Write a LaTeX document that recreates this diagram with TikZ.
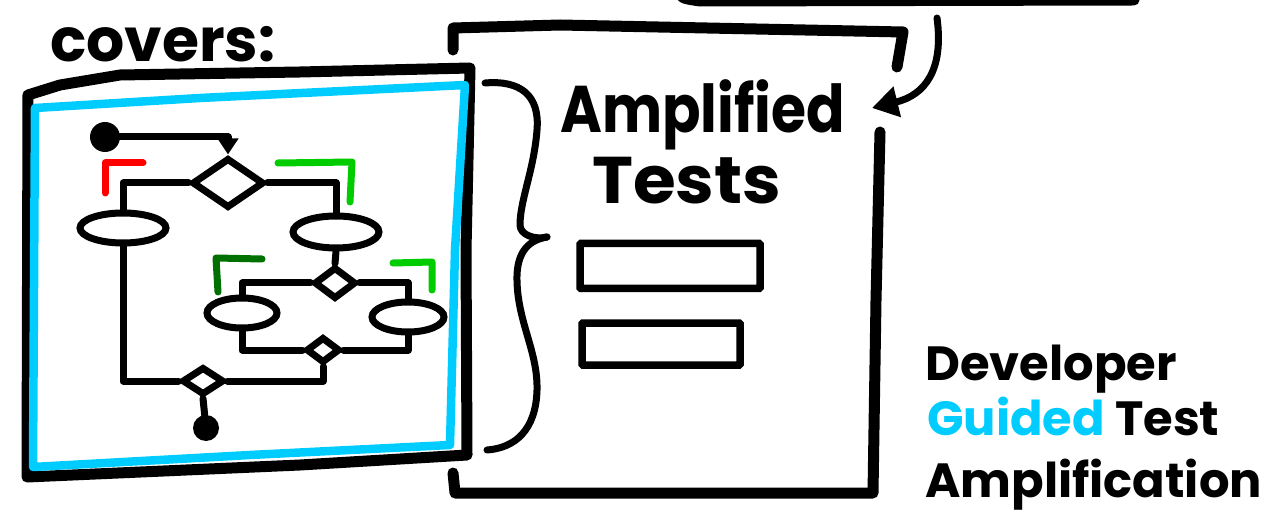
\documentclass[tikz,border=0pt]{standalone}
\usepackage{fontspec}
\setmainfont{Poppins}
\usetikzlibrary{shapes.geometric,arrows.meta}
\definecolor{skycyan}{RGB}{0,204,255}
\definecolor{markred}{RGB}{255,0,0}
\definecolor{markgreen}{RGB}{0,204,0}
\definecolor{markdark}{RGB}{0,112,0}
\tikzset{
  ink/.style={line width=7pt, line cap=round, line join=round},
  heavy/.style={line width=11pt, line cap=round, line join=round},
  cyanline/.style={line width=8.5pt, line cap=round, line join=round, draw=skycyan},
  covmark/.style={line width=7pt, line cap=round, line join=round},
  stateel/.style={ellipse, draw, line width=7pt, inner sep=0pt, fill=white},
  choice/.style={diamond, draw, line width=7pt, inner sep=0pt, fill=white},
  blob/.style={circle, fill=black, inner sep=0pt},
  testbox/.style={rectangle, draw, line width=7.5pt, inner sep=0pt, rounded corners=1pt},
  txt/.style={inner sep=0pt, anchor=base west},
}
\begin{document}
\begin{tikzpicture}[x=1pt,y=-1pt]
\useasboundingbox (0,0) rectangle (1265,518);
\clip (0,0) rectangle (1265,518);

% ---------- text ----------
\node[txt, font=\bfseries\fontsize{60}{60}\selectfont] (covers) at (50,62) {covers:};
\node[txt, font=\bfseries\fontsize{66}{66}\selectfont, xscale=0.86] (amp) at (560,133) {Amplified};
\node[txt, font=\bfseries\fontsize{66}{66}\selectfont, xscale=1.05] (tests) at (592,204) {Tests};
\node[txt, font=\bfseries\fontsize{48}{48}\selectfont] (dev) at (925,380) {Developer};
\node[txt, font=\bfseries\fontsize{48}{48}\selectfont] (guided) at (927,435) {\textcolor{skycyan}{Guided} Test};
\node[txt, font=\bfseries\fontsize{48}{48}\selectfont] (ampl) at (925,497) {Amplification};

% ---------- document box (right) ----------
\draw[heavy] (453,50) -- (453,28) -- (560,25) -- (903,32) -- (897,67);
\draw[heavy] (880,132) -- (876,300) -- (873,493) -- (455,493) -- (453,473);
% line at very top
\draw[heavy] (680,-12) .. controls (680,-2) .. (700,1) -- (1134,0);
% curved arrow into document box
\coordinate (arrstart) at (937,18);
\coordinate (arrend) at (872,108);
\draw[ink, -{Triangle[length=26pt,width=30pt]}] (arrstart) .. controls (944,70) and (925,95) .. (arrend);

% brace
\draw[ink] (485,83) .. controls (520,80) and (540,95) .. (537,130)
  .. controls (534,170) and (520,200) .. (520,225)
  .. controls (520,235) and (535,240) .. (547,237);
\draw[ink] (547,237) .. controls (530,240) and (518,250) .. (517,275)
  .. controls (516,320) and (538,350) .. (537,390)
  .. controls (536,430) and (515,448) .. (487,450);

% test boxes
\node[testbox, minimum width=180pt, minimum height=45pt] (t1) at (670,266) {};
\node[testbox, minimum width=158pt, minimum height=42pt] (t2) at (661,344) {};

% ---------- covers frame ----------
\draw[heavy] (28,95) -- (60,85) -- (120,75) -- (300,72) -- (470,68) -- (466,250) -- (467,455)
  -- (300,465) -- (27,477) -- cycle;
\draw[cyanline] (35,108) -- (200,98) -- (465,85) -- (455,250) -- (450,445) -- (250,455) -- (33,467) -- cycle;

% ---------- flowchart ----------
\node[blob, minimum size=30pt] (start) at (105,137) {};
\node[blob, minimum size=26pt] (stop) at (206,428) {};
\node[choice, minimum width=72pt, minimum height=50pt] (d1) at (228,183) {};
\node[choice, minimum width=42pt, minimum height=32pt] (d2) at (335,283) {};
\node[choice, minimum width=34pt, minimum height=26pt] (d3) at (323,350) {};
\node[choice, minimum width=42pt, minimum height=28pt] (db) at (203,381) {};
\node[stateel, minimum width=86pt, minimum height=30pt] (e1) at (123,228) {};
\node[stateel, minimum width=86pt, minimum height=32pt] (e2) at (336,232) {};
\node[stateel, minimum width=70pt, minimum height=30pt] (e3) at (242,313) {};
\node[stateel, minimum width=72pt, minimum height=30pt] (e4) at (408,317) {};

\draw[ink, -{Triangle[length=16pt,width=20pt]}] (start.east) -- (start.east -| d1.north) -- (d1.north);
\draw[ink] (d1.west) -| (e1.north);
\draw[ink] (d1.east) -| (e2.north);
\draw[ink] (e1.south) |- (db.west);
\draw[ink] (e2.south) -- (d2.north);
\draw[ink] (d2.west) -| (e3.north);
\draw[ink] (d2.east) -| (e4.north);
\draw[ink] (e3.south) |- (d3.west);
\draw[ink] (e4.south) |- (d3.east);
\draw[ink] (d3.south) |- (db.east);
\draw[ink] (db.south) -- (stop);

% coverage marks
\draw[covmark, markred] (105,193) -- (105,163) -- (143,163);
\draw[covmark, markgreen] (278,163) -- (352,162) -- (350,202);
\draw[covmark, markdark] (218,292) -- (216,258) -- (262,259);
\draw[covmark, markgreen] (393,263) -- (432,262) -- (432,290);
\end{tikzpicture}
\end{document}
